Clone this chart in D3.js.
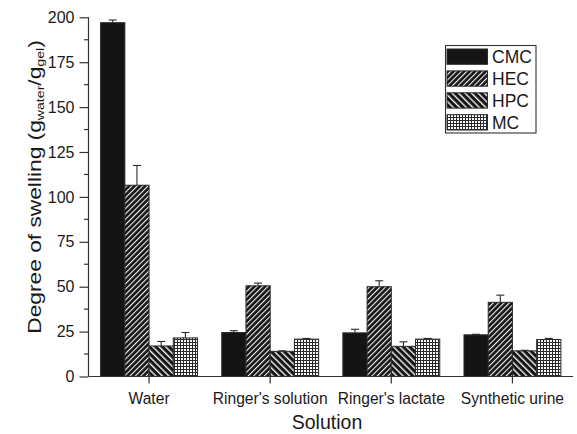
<!DOCTYPE html>
<html>
<head>
<meta charset="utf-8">
<script src="https://cdn.jsdelivr.net/npm/d3@7"></script>
<style>
  html, body { margin: 0; padding: 0; background: #fff; }
  svg { display: block; font-family: "Liberation Sans", Arial, Helvetica, sans-serif; }
</style>
</head>
<body>
<svg id="chart" width="577" height="434"></svg>
<script>
// Swelling data: one value array and one error array per polymer
const categories = ["Water", "Ringer's solution", "Ringer's lactate", "Synthetic urine"];
const seriesNames = ["CMC", "HEC", "HPC", "MC"];
const cmcValues = [197, 24.5, 24.3, 23.2];
const cmcErrors = [1.5, 1.0, 2.0, 0.3];
const hecValues = [106.5, 50.5, 50.0, 41.3];
const hecErrors = [11.0, 1.5, 3.3, 4.0];
const hpcValues = [17.0, 14.0, 16.8, 14.3];
const hpcErrors = [2.5, 0.3, 2.5, 0.3];
const mcValues = [21.5, 20.8, 20.8, 20.6];
const mcErrors = [3.0, 0.4, 0.4, 0.6];
const yTicks = [0, 25, 50, 75, 100, 125, 150, 175, 200];

const seriesValues = [cmcValues, hecValues, hpcValues, mcValues];
const seriesErrors = [cmcErrors, hecErrors, hpcErrors, mcErrors];

const svg = d3.select("#chart");
const ink = "#1a1a1a";

// Fill patterns
const defs = svg.append("defs");
const hecPat = defs.append("pattern").attr("id", "pat-hec")
  .attr("patternUnits", "userSpaceOnUse").attr("width", 3.8).attr("height", 3.8)
  .attr("patternTransform", "rotate(45)");
hecPat.append("rect").attr("width", 3.8).attr("height", 3.8).attr("fill", "#151515");
hecPat.append("rect").attr("x", 0).attr("width", 1.1).attr("height", 3.8).attr("fill", "#f2f2f2");

const hpcPat = defs.append("pattern").attr("id", "pat-hpc")
  .attr("patternUnits", "userSpaceOnUse").attr("width", 4.6).attr("height", 4.6)
  .attr("patternTransform", "rotate(-45)");
hpcPat.append("rect").attr("width", 4.6).attr("height", 4.6).attr("fill", "#151515");
hpcPat.append("rect").attr("x", 0).attr("width", 1.4).attr("height", 4.6).attr("fill", "#f2f2f2");

const mcPat = defs.append("pattern").attr("id", "pat-mc")
  .attr("patternUnits", "userSpaceOnUse").attr("width", 3).attr("height", 3);
mcPat.append("rect").attr("width", 3).attr("height", 3).attr("fill", "#2a2a2a");
mcPat.append("rect").attr("x", 1).attr("y", 1).attr("width", 2).attr("height", 2).attr("fill", "#fafafa");

const fills = ["#141414", "url(#pat-hec)", "url(#pat-hpc)", "url(#pat-mc)"];

// Scales
const plotLeft = 88.5, plotRight = 573, plotTop = 17.3, plotBottom = 376.5;
const x = d3.scaleBand().domain(categories).range([plotLeft, plotRight]).paddingInner(0).paddingOuter(0);
const inner = d3.scaleBand().domain(seriesNames).range([0.1 * x.bandwidth(), 0.9 * x.bandwidth()]);
const y = d3.scaleLinear().domain([0, 200]).range([plotBottom, plotTop]);

// Bars
const rows = [];
seriesNames.forEach((s, si) => {
  categories.forEach((c, ci) => {
    rows.push({ s, si, c, v: seriesValues[si][ci], e: seriesErrors[si][ci] });
  });
});

// Error bars (upper half)
const errG = svg.append("g");
rows.forEach(d => {
  const cx = x(d.c) + inner(d.s) + inner.bandwidth() / 2;
  errG.append("line").attr("x1", cx).attr("x2", cx)
    .attr("y1", y(d.v)).attr("y2", y(d.v + d.e))
    .attr("stroke", "#2a2a2a").attr("stroke-width", 1.1);
  errG.append("line").attr("x1", cx - 4).attr("x2", cx + 4)
    .attr("y1", y(d.v + d.e)).attr("y2", y(d.v + d.e))
    .attr("stroke", "#2a2a2a").attr("stroke-width", 1.1);
});

svg.append("g").selectAll("rect").data(rows).join("rect")
  .attr("x", d => x(d.c) + inner(d.s))
  .attr("y", d => y(d.v))
  .attr("width", inner.bandwidth())
  .attr("height", d => y(0) - y(d.v))
  .attr("fill", d => fills[d.si])
  .attr("stroke", "#2b2b2b").attr("stroke-width", 1);

// Y axis
const yAxis = svg.append("g").attr("transform", `translate(${plotLeft},0)`)
  .call(d3.axisLeft(y).tickValues(yTicks).tickSize(9).tickPadding(5).tickFormat(d3.format("d")));
yAxis.select(".domain").attr("stroke", "#333").attr("stroke-width", 1.2).attr("d", `M0,${plotBottom}V${plotTop}`);
yAxis.selectAll(".tick line").attr("stroke", "#333").attr("stroke-width", 1.2);
yAxis.selectAll(".tick text").attr("font-size", 16).attr("fill", ink)
  .attr("font-family", "Liberation Sans, Arial, sans-serif");
// minor ticks
const minor = d3.range(12.5, 200, 25);
yAxis.selectAll(".minor").data(minor).join("line").attr("class", "minor")
  .attr("x1", -4.5).attr("x2", 0).attr("y1", d => y(d)).attr("y2", d => y(d))
  .attr("stroke", "#333").attr("stroke-width", 1.2);

// X axis
const xAxis = svg.append("g").attr("transform", `translate(0,${plotBottom})`)
  .call(d3.axisBottom(x).tickSize(7).tickPadding(9));
xAxis.select(".domain").attr("stroke", "#333").attr("stroke-width", 1.2).attr("d", `M${plotLeft},0H${plotRight}`);
xAxis.selectAll(".tick line").attr("stroke", "#333").attr("stroke-width", 1.2);
xAxis.selectAll(".tick text").attr("font-size", 15.6).attr("fill", ink)
  .attr("font-family", "Liberation Sans, Arial, sans-serif");

// Axis titles
svg.append("text").attr("x", 327).attr("y", 429).attr("text-anchor", "middle")
  .attr("font-size", 19.5).attr("fill", ink).text("Solution");

const yt = svg.append("text").attr("transform", "translate(40.5,187) rotate(-90) scale(1.23,1)")
  .attr("text-anchor", "middle").attr("font-size", 18.5).attr("fill", ink);
yt.append("tspan").text("Degree of swelling (g");
yt.append("tspan").attr("font-size", 11.5).attr("dy", 3).text("water");
yt.append("tspan").attr("dy", -3).text("/g");
yt.append("tspan").attr("font-size", 11.5).attr("dy", 3).text("gel");
yt.append("tspan").attr("dy", -3).text(")");

// Legend
const lg = svg.append("g");
lg.append("rect").attr("x", 445.5).attr("y", 45.5).attr("width", 90.5).attr("height", 87.5)
  .attr("fill", "#fff").attr("stroke", "#333").attr("stroke-width", 1.1);
seriesNames.forEach((s, i) => {
  const yy = 49 + i * 21.9;
  lg.append("rect").attr("x", 447).attr("y", yy).attr("width", 40.5).attr("height", 15.3)
    .attr("fill", fills[i]).attr("stroke", "#2b2b2b").attr("stroke-width", 1);
  lg.append("text").attr("x", 492).attr("y", yy + 14).attr("font-size", 17.5)
    .attr("fill", ink).text(s);
});
</script>
</body>
</html>
